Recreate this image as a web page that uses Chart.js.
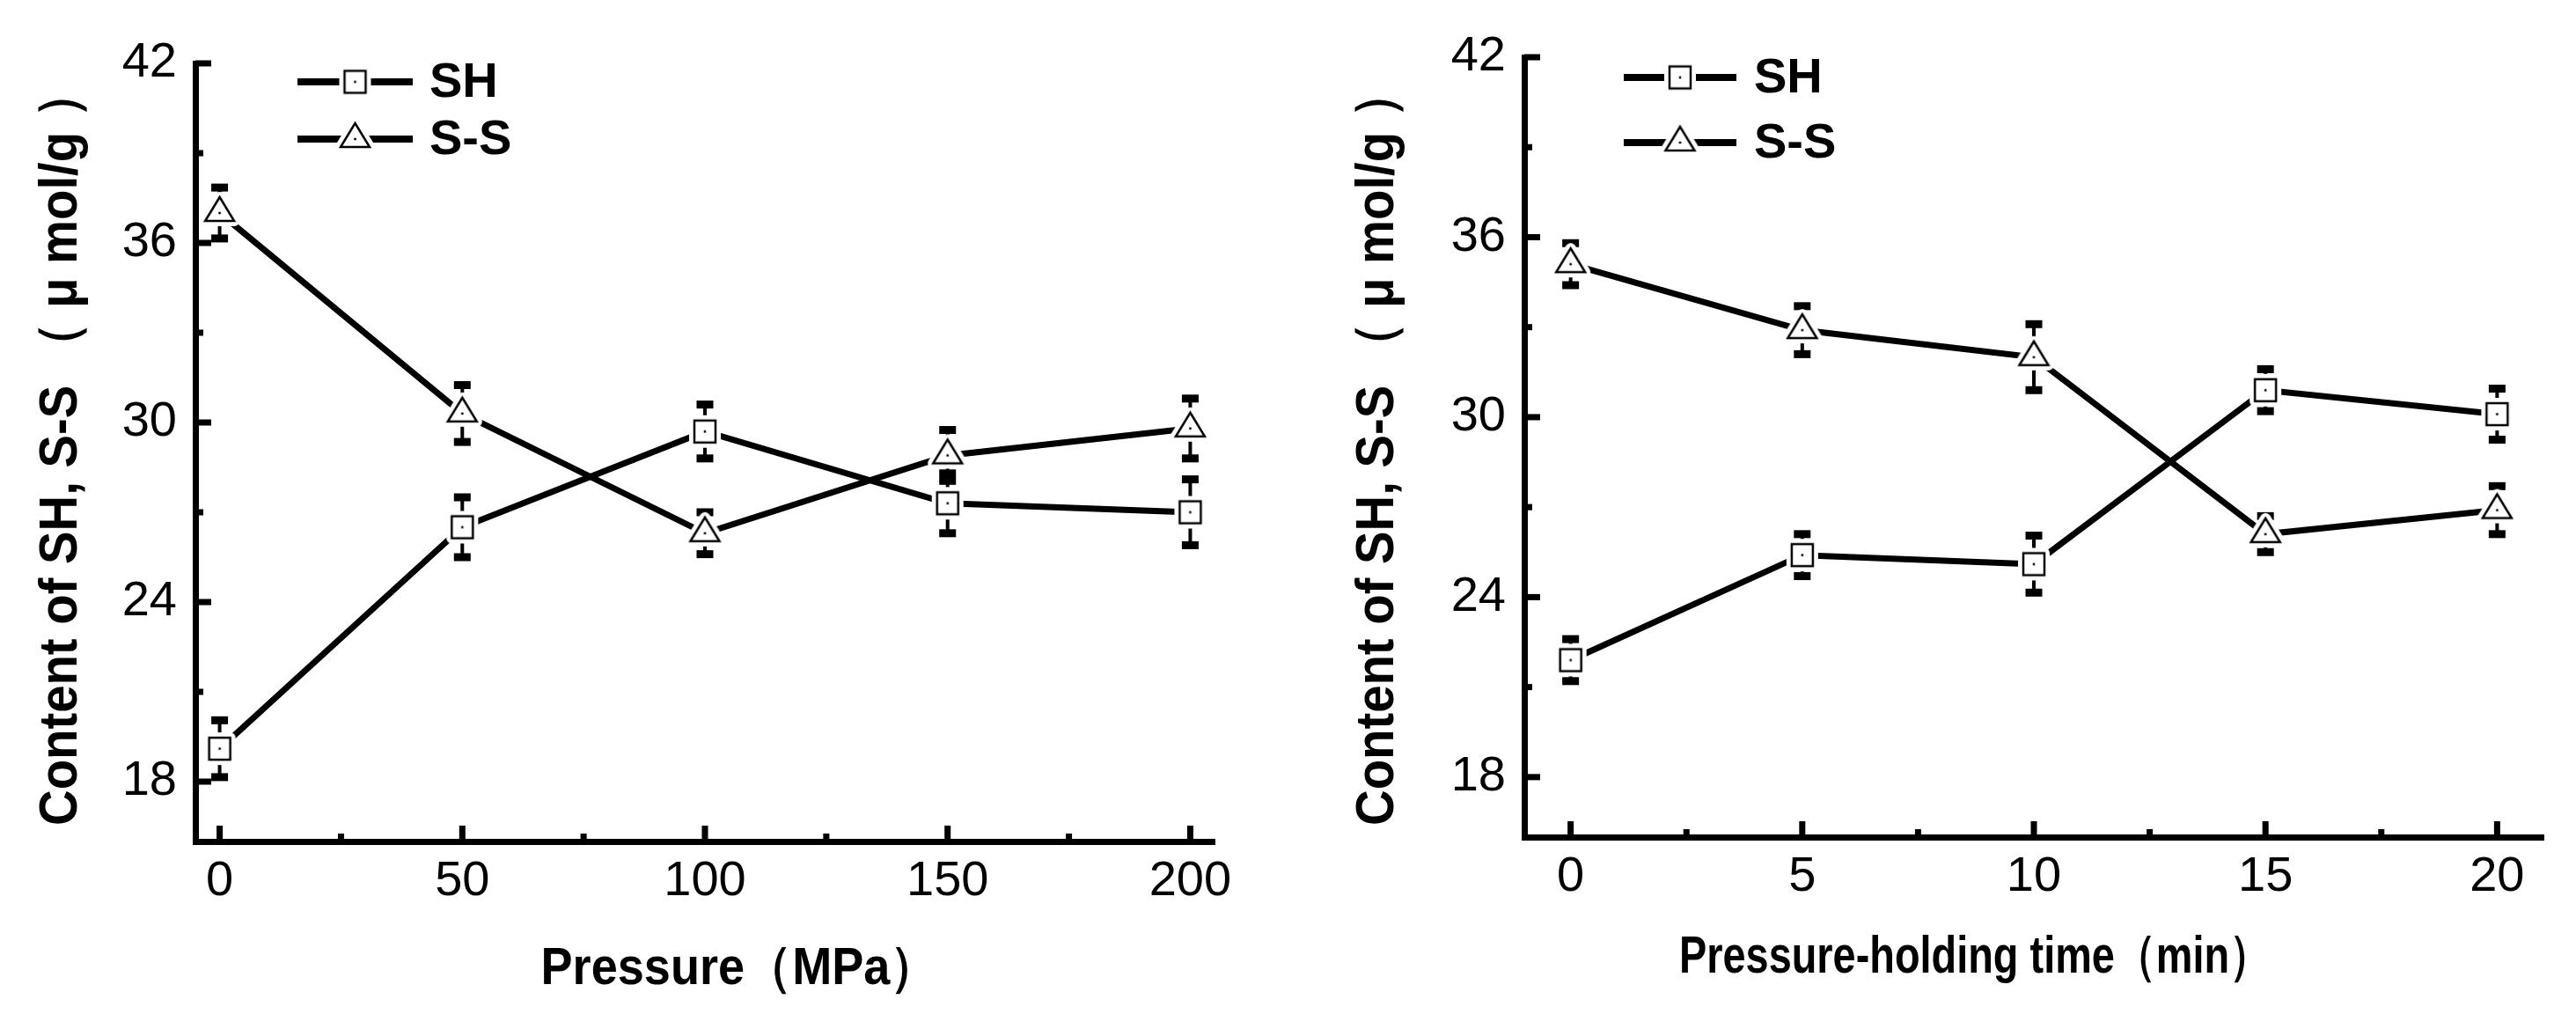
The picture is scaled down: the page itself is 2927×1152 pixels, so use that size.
<!DOCTYPE html>
<html>
<head>
<meta charset="utf-8">
<title>Content of SH and S-S</title>
<script src="https://cdn.jsdelivr.net/npm/chart.js@4.4.0/dist/chart.umd.min.js"></script>
<style>
  html, body { margin: 0; padding: 0; background: #fff; }
  body { width: 2927px; height: 1152px; position: relative; overflow: hidden; }
  canvas { position: absolute; top: 0; }
  #pressureChart { left: 0; }
  #timeChart { left: 1460px; }
</style>
</head>
<body>
<canvas id="pressureChart" width="1460" height="1152"></canvas>
<canvas id="timeChart" width="1467" height="1152"></canvas>
<script>
// left panel: pressure
const pressure = [0, 50, 100, 150, 200];
const shPressure = [19.1, 26.5, 29.7, 27.3, 27.0];
const shPressureErr = [0.95, 1.0, 0.9, 1.0, 1.1];
const ssPressure = [37.0, 30.3, 26.3, 28.9, 29.8];
const ssPressureErr = [0.85, 0.95, 0.7, 0.85, 1.0];

// right panel: pressure-holding time
const holdTime = [0, 5, 10, 15, 20];
const shTime = [21.9, 25.4, 25.1, 30.9, 30.1];
const shTimeErr = [0.7, 0.7, 0.95, 0.7, 0.85];
const ssTime = [35.1, 32.9, 32.0, 26.1, 26.9];
const ssTimeErr = [0.7, 0.8, 1.1, 0.6, 0.8];

const yTicks = [18, 24, 30, 36, 42];
const pressureTicks = [0, 50, 100, 150, 200];
const timeTicks = [0, 5, 10, 15, 20];

const seriesLabels = ['SH', 'S-S'];
const yTitle = 'Content of SH, S-S （ μ mol/g ）';

const FONT = "'Liberation Sans', Arial, sans-serif";
Chart.defaults.font.family = FONT;
Chart.defaults.color = '#000';

function makeMarker(shape, w, h, gap) {
  const c = document.createElement('canvas');
  const pad = gap + 4;
  c.width = Math.ceil(w + 2 * pad);
  c.height = Math.ceil((shape === 'square' ? h : h * 4 / 3) + 2 * pad);
  const g = c.getContext('2d');
  const cx = c.width / 2, cy = c.height / 2;
  function path() {
    g.beginPath();
    if (shape === 'square') {
      g.rect(cx - w / 2, cy - h / 2, w, h);
    } else {
      g.moveTo(cx, cy - h * 2 / 3);
      g.lineTo(cx + w / 2, cy + h / 3);
      g.lineTo(cx - w / 2, cy + h / 3);
      g.closePath();
    }
  }
  // white halo so lines and error bars stop short of the marker
  path();
  g.fillStyle = '#fff';
  g.strokeStyle = '#fff';
  g.lineWidth = gap * 2;
  g.lineJoin = 'round';
  g.fill();
  g.stroke();
  path();
  g.lineWidth = 2.5;
  g.strokeStyle = '#000';
  g.lineJoin = 'miter';
  g.fill();
  g.stroke();
  g.fillStyle = '#000';
  g.fillRect(cx - 1.25, cy - 1.25, 2.5, 2.5);
  return c;
}

const squareMarker = makeMarker('square', 24, 25, 6);
const triangleMarker = makeMarker('triangle', 33, 27, 6);

function midpoints(arr) {
  const out = [];
  for (let i = 1; i < arr.length; i++) out.push((arr[i - 1] + arr[i]) / 2);
  return out;
}

const errorBars = {
  id: 'errorBars',
  beforeDatasetsDraw(chart) {
    const ctx = chart.ctx;
    const xs = chart.scales.x, ys = chart.scales.y;
    ctx.save();
    ctx.fillStyle = '#000';
    chart.data.datasets.forEach(ds => {
      ds.data.forEach((p, i) => {
        const e = ds.errors[i];
        const x = xs.getPixelForValue(p.x);
        const top = ys.getPixelForValue(p.y + e);
        const bot = ys.getPixelForValue(p.y - e);
        ctx.fillRect(x - 2, top, 4, bot - top);
        ctx.fillRect(x - 9.5, top - 4.5, 19, 9);
        ctx.fillRect(x - 9.5, bot - 4.5, 19, 9);
      });
    });
    ctx.restore();
  }
};

const innerTicks = {
  id: 'innerTicks',
  afterDraw(chart, args, o) {
    const ctx = chart.ctx, a = chart.chartArea;
    const xs = chart.scales.x, ys = chart.scales.y;
    ctx.save();
    ctx.fillStyle = '#000';
    o.x.forEach(v => {
      const x = xs.getPixelForValue(v);
      ctx.fillRect(x - 3.5, a.bottom - 18, 7, 18);
    });
    midpoints(o.x).forEach(v => {
      const x = xs.getPixelForValue(v);
      ctx.fillRect(x - 3.5, a.bottom - 9, 7, 9);
    });
    o.y.forEach(v => {
      const y = ys.getPixelForValue(v);
      ctx.fillRect(a.left, y - 3.5, 18, 7);
    });
    midpoints(o.y).forEach(v => {
      const y = ys.getPixelForValue(v);
      ctx.fillRect(a.left, y - 3.5, 9, 7);
    });
    ctx.restore();
  }
};

const axisTitles = {
  id: 'axisTitles',
  afterDraw(chart, args, o) {
    const ctx = chart.ctx;
    ctx.save();
    ctx.fillStyle = '#000';
    ctx.textAlign = 'center';
    ctx.textBaseline = 'middle';
    ctx.font = 'bold 60px ' + FONT;
    ctx.fillText(o.x.text, o.x.cx, o.x.cy, o.x.width);
    ctx.font = 'bold 62px ' + FONT;
    ctx.translate(o.y.cx, o.y.cy);
    ctx.rotate(-Math.PI / 2);
    ctx.fillText(o.y.text, 0, 0, o.y.width);
    ctx.restore();
  }
};

const lineLegend = {
  id: 'lineLegend',
  afterDraw(chart, args, o) {
    const ctx = chart.ctx;
    ctx.save();
    ctx.font = 'bold 56px ' + FONT;
    ctx.textBaseline = 'middle';
    ctx.fillStyle = '#000';
    chart.data.datasets.forEach((ds, i) => {
      const y = o.rows[i];
      ctx.fillRect(o.x0, y - 4, o.x1 - o.x0, 8);
      const img = ds.pointStyle;
      const mx = (o.x0 + o.x1) / 2;
      ctx.drawImage(img, mx - img.width / 2, y - img.height / 2);
      ctx.fillText(ds.label, o.textX, y + 2);
    });
    ctx.restore();
  }
};

function buildChart(id, p) {
  const series = (ys, errs, label, marker) => ({
    label: label,
    data: p.xs.map((x, i) => ({ x: x, y: ys[i] })),
    errors: errs,
    borderColor: '#000',
    borderWidth: 7,
    tension: 0,
    fill: false,
    pointStyle: marker,
    pointRadius: 12,
    pointHoverRadius: 12
  });
  return new Chart(document.getElementById(id), {
    type: 'line',
    data: {
      datasets: [
        series(p.sh, p.shErr, seriesLabels[0], squareMarker),
        series(p.ss, p.ssErr, seriesLabels[1], triangleMarker)
      ]
    },
    options: {
      responsive: false,
      devicePixelRatio: 1,
      animation: false,
      events: [],
      layout: { padding: { left: 0, top: p.top, right: p.right, bottom: 0 } },
      scales: {
        x: {
          type: 'linear',
          min: p.xMin,
          max: p.xMax,
          grid: { display: false, drawTicks: false },
          border: { display: true, color: '#000', width: 7 },
          afterBuildTicks: s => { s.ticks = p.xTicks.map(v => ({ value: v })); },
          afterFit: s => { s.height = p.xHeight; },
          ticks: { font: { size: 56 }, padding: 12, color: '#000', maxRotation: 0 }
        },
        y: {
          type: 'linear',
          min: 16,
          max: 42,
          grid: { display: false, drawTicks: false },
          border: { display: true, color: '#000', width: 7 },
          afterBuildTicks: s => { s.ticks = yTicks.map(v => ({ value: v })); },
          afterFit: s => { s.width = p.yWidth; },
          ticks: { font: { size: 56 }, padding: 21, color: '#000' }
        }
      },
      plugins: {
        legend: { display: false },
        tooltip: { enabled: false },
        innerTicks: { x: p.xTicks, y: yTicks },
        axisTitles: { x: p.xTitle, y: p.yTitle },
        lineLegend: p.legend
      }
    },
    plugins: [errorBars, innerTicks, axisTitles, lineLegend]
  });
}

buildChart('pressureChart', {
  xs: pressure, sh: shPressure, shErr: shPressureErr, ss: ssPressure, ssErr: ssPressureErr,
  xMin: -5, xMax: 205, xTicks: pressureTicks,
  top: 72, right: 80, xHeight: 196, yWidth: 222,
  xTitle: { text: 'Pressure（MPa）', cx: 840, cy: 1101, width: 451 },
  yTitle: { text: yTitle, cx: 70, cy: 508, width: 860 },
  legend: { x0: 338, x1: 469, textX: 488, rows: [93, 158] }
});

buildChart('timeChart', {
  xs: holdTime, sh: shTime, shErr: shTimeErr, ss: ssTime, ssErr: ssTimeErr,
  xMin: -1, xMax: 21, xTicks: timeTicks,
  top: 65, right: 37, xHeight: 201, yWidth: 272,
  xTitle: { text: 'Pressure-holding time（min）', cx: 784, cy: 1088, width: 672 },
  yTitle: { text: yTitle, cx: 106, cy: 508, width: 860 },
  legend: { x0: 385, x1: 513, textX: 533, rows: [88, 162] }
});
</script>
</body>
</html>
